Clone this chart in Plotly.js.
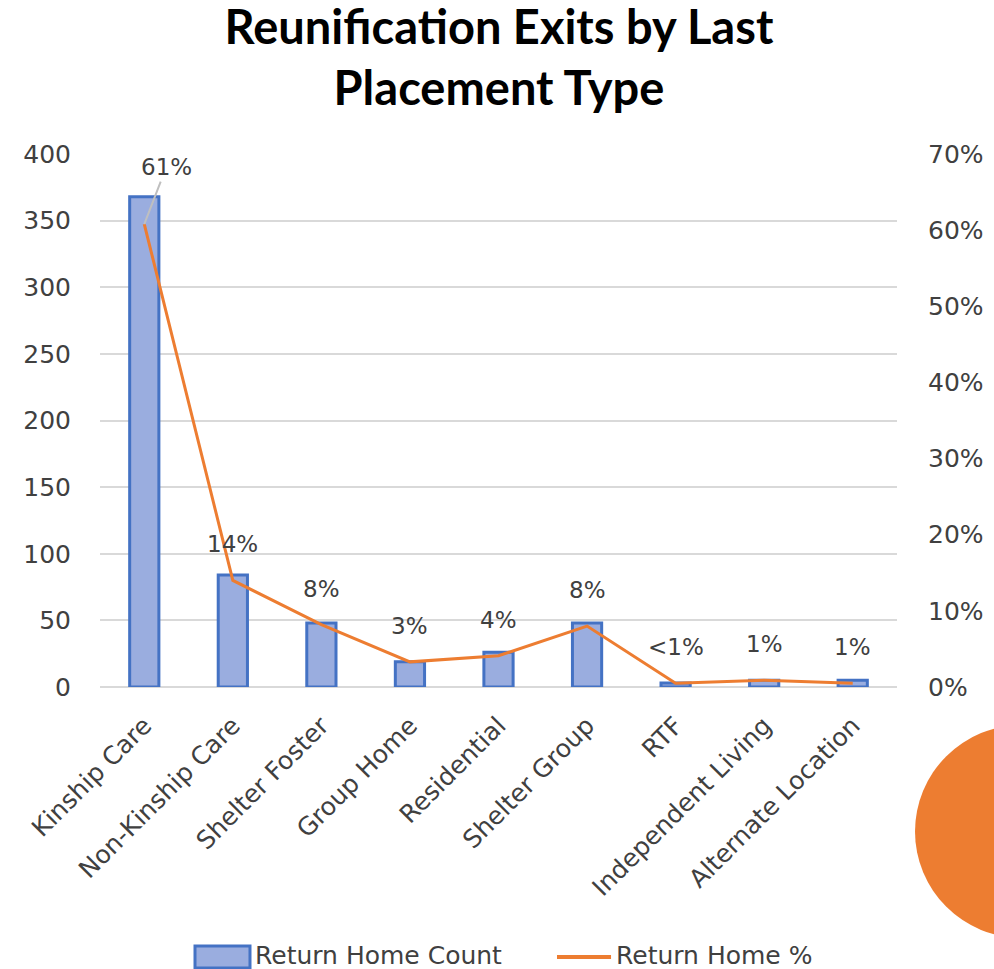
<!DOCTYPE html>
<html><head><meta charset="utf-8">
<script src="https://cdn.plot.ly/plotly-3.0.1.min.js"></script>
<style>html,body{margin:0;padding:0;background:#fff}#chart{width:994px;height:969px}</style>
</head><body><div id="chart"></div>
<script>
const categories = ["Kinship Care","Non-Kinship Care","Shelter Foster","Group Home","Residential","Shelter Group","RTF","Independent Living","Alternate Location"];
const returnHomeCount = [368, 84, 48, 19, 26, 48, 3, 5, 5];
const returnHomePct = [60.8, 14.0, 8.2, 3.3, 4.1, 8.0, 0.5, 0.9, 0.5];
const pctLabels = ["61%","14%","8%","3%","4%","8%","<1%","1%","1%"];
const leftTicks = [0,50,100,150,200,250,300,350,400];
const rightTicks = [0,10,20,30,40,50,60,70];
const seriesNames = ["Return Home Count", "Return Home %"];

const font = "'DejaVu Sans', sans-serif";
const titleFont = "Lato, 'Open Sans', sans-serif";
const textColor = '#404040';
const barColor = '#9aaddf';
const barLine = '#4472C4';
const lineColor = '#ED7D31';

const bars = {
  type: 'bar', name: seriesNames[0], x: categories, y: returnHomeCount,
  marker: {color: barColor, line: {color: barLine, width: 3}},
  yaxis: 'y'
};
const line = {
  type: 'scatter', mode: 'lines', name: seriesNames[1], x: categories, y: returnHomePct,
  line: {color: lineColor, width: 3}, yaxis: 'y2'
};

const annotations = categories.map((c, i) => {
  const a = {x: c, y: returnHomePct[i], xref: 'x', yref: 'y2', text: pctLabels[i],
    showarrow: false, yshift: 36, font: {family: font, size: 23, color: textColor}};
  if (i === 0) {
    Object.assign(a, {showarrow: true, arrowhead: 0, arrowcolor: '#bfbfbf', arrowwidth: 2,
      ax: 22, ay: -57, yshift: 0, standoff: 0});
  }
  return a;
});

// custom legend (text as annotations, symbols as shapes)
annotations.push({xref: 'paper', yref: 'paper', x: 0.1915, y: -0.5030, xanchor: 'left', yanchor: 'middle',
  text: seriesNames[0], showarrow: false, font: {family: font, size: 25, color: textColor}});
annotations.push({xref: 'paper', yref: 'paper', x: 0.6445, y: -0.5030, xanchor: 'left', yanchor: 'middle',
  text: seriesNames[1], showarrow: false, font: {family: font, size: 25, color: textColor}});

const layout = {
  width: 994, height: 969,
  margin: {l: 100, r: 97, t: 154, b: 282, autoexpand: false},
  paper_bgcolor: '#fff', plot_bgcolor: '#fff',
  title: {text: 'Reunification Exits by Last<br>Placement Type', x: 0.502, xanchor: 'center',
    yref: 'container', y: 0.9546, yanchor: 'top',
    font: {family: titleFont, size: 47, color: '#000', weight: 'bold'}},
  bargap: 0.67,
  showlegend: false,
  xaxis: {tickangle: -45, tickfont: {family: font, size: 25, color: textColor}, showgrid: false,
    showline: false, ticks: '', ticklabelstandoff: 18, fixedrange: true},
  yaxis: {range: [0, 400], tickvals: leftTicks, ticktext: leftTicks.map(String),
    tickfont: {family: font, size: 25, color: textColor}, showgrid: true, gridcolor: '#d9d9d9', gridwidth: 2,
    zeroline: true, zerolinecolor: '#d9d9d9', zerolinewidth: 2, ticks: '', ticklabelstandoff: 28, showline: false},
  yaxis2: {range: [0, 70], overlaying: 'y', side: 'right', tickvals: rightTicks, ticktext: rightTicks.map(v => v + '%'),
    tickfont: {family: font, size: 25, color: textColor}, showgrid: false, zeroline: false, ticks: '',
    ticklabelstandoff: 30, showline: false},
  annotations: annotations,
  shapes: [
    {type: 'circle', xref: 'paper', yref: 'paper', x0: 1.0226, x1: 1.291, y0: -0.471, y1: -0.0713,
      fillcolor: lineColor, line: {width: 0}, layer: 'above'},
    {type: 'rect', xref: 'paper', yref: 'paper', x0: 0.1192, x1: 0.1882, y0: -0.5272, y1: -0.4859,
      fillcolor: barColor, line: {color: barLine, width: 3}},
    {type: 'line', xref: 'paper', yref: 'paper', x0: 0.5734, x1: 0.6412, y0: -0.5066, y1: -0.5066,
      line: {color: lineColor, width: 4}}
  ]
};

Plotly.newPlot('chart', [bars, line], layout, {displayModeBar: false, staticPlot: true});
</script>
</body></html>
